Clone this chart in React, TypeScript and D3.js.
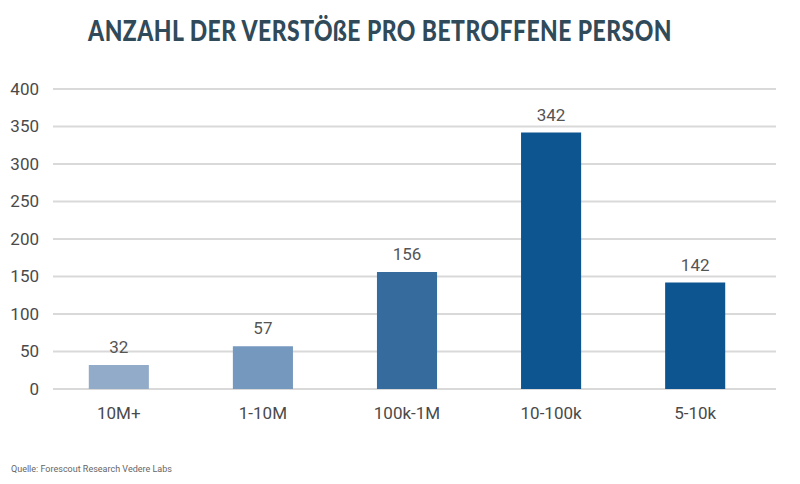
import * as d3 from 'd3'

const categories = ['10M+', '1-10M', '100k-1M', '10-100k', '5-10k']
const values = [32, 57, 156, 342, 142]
const barColors = ['#91abc9', '#7598be', '#356b9d', '#0d5590', '#0d5590']
const yTicks = [0, 50, 100, 150, 200, 250, 300, 350, 400]

export default function App() {
  const width = 800
  const height = 484
  const left = 47
  const right = 767
  const top = 89
  const bottom = 389

  const x = d3.scaleBand<string>().domain(categories).range([left, right]).paddingInner(0.583).paddingOuter(0.29)
  const y = d3.scaleLinear().domain([0, 400]).range([bottom, top])

  const font = 'Roboto, "Open Sans", sans-serif'

  return (
    <svg width={width} height={height} style={{ position: 'absolute', left: 0, top: 0, background: '#fff' }}>
      {/* Titel: schmal gezogen, damit er wie die Vorlage wirkt */}
      <g transform="translate(380,41) scale(0.79,1)">
        <text x={0} y={0} textAnchor="middle" fill="#304a5a" fontFamily='Lato, sans-serif'
          fontWeight={900} fontSize={29} letterSpacing={0.6}>
          ANZAHL DER VERSTÖßE PRO BETROFFENE PERSON
        </text>
      </g>

      {yTicks.map(t => (
        <g key={t}>
          <line x1={53} x2={776} y1={y(t)} y2={y(t)} stroke="#d9d9d9" strokeWidth={2} />
          <text x={39} y={y(t)} dy="0.35em" textAnchor="end" fill="#4a4a4a" fontFamily={font} fontSize={17}>{t}</text>
        </g>
      ))}

      {categories.map((c, i) => (
        <g key={c}>
          <rect x={x(c)} y={y(values[i])} width={x.bandwidth()} height={bottom - y(values[i])} fill={barColors[i]} />
          <text x={(x(c) ?? 0) + x.bandwidth() / 2} y={y(values[i]) - 12} textAnchor="middle" fill="#555"
            fontFamily={font} fontSize={17}>{values[i]}</text>
          <text x={(x(c) ?? 0) + x.bandwidth() / 2} y={419} textAnchor="middle" fill="#4a4a4a"
            fontFamily={font} fontSize={17}>{c}</text>
        </g>
      ))}

      <text x={11} y={472} fill="#666" fontFamily={font} fontSize={9}>Quelle: Forescout Research Vedere Labs</text>
    </svg>
  )
}
